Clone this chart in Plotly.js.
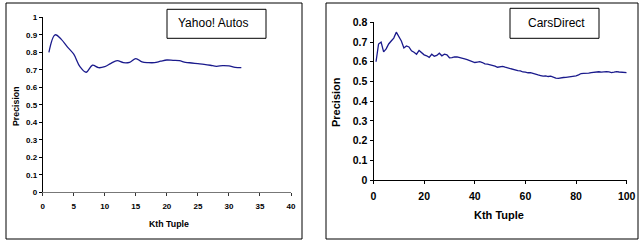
<!DOCTYPE html>
<html>
<head>
<meta charset="utf-8">
<script src="https://cdn.plot.ly/plotly-3.0.1.min.js"></script>
<style>html,body{margin:0;padding:0;background:#fff;}#chart{width:639px;height:241px;}</style>
</head>
<body>
<div id="chart"></div>
<script>
// Yahoo! Autos precision by Kth tuple
const yahooK = [1,2,3,4,5,6,7,8,9,10,11,12,13,14,15,16,17,18,19,20,21,22,23,24,25,26,27,28,29,30,31,32];
const yahooPrecision = [0.80,0.90,0.874,0.83,0.789,0.718,0.686,0.726,0.712,0.718,0.737,0.752,0.741,0.743,0.764,0.745,0.741,0.741,0.749,0.756,0.754,0.752,0.743,0.739,0.735,0.731,0.726,0.72,0.724,0.722,0.714,0.712];

// CarsDirect precision by Kth tuple
const carsK = [];
for (let i = 1; i <= 100; i++) carsK.push(i);
const carsPrecision = [
0.60,0.69,0.70,0.65,0.665,0.69,0.705,0.72,0.75,0.73,
0.705,0.67,0.68,0.675,0.655,0.648,0.638,0.657,0.645,0.635,
0.63,0.622,0.638,0.628,0.632,0.643,0.63,0.638,0.635,0.62,
0.621,0.625,0.624,0.622,0.617,0.615,0.611,0.607,0.603,0.596,
0.598,0.600,0.596,0.589,0.588,0.585,0.58,0.578,0.572,0.573,
0.576,0.572,0.568,0.563,0.561,0.558,0.555,0.554,0.548,0.547,
0.544,0.545,0.54,0.537,0.533,0.53,0.527,0.528,0.525,0.527,
0.52,0.517,0.516,0.519,0.52,0.521,0.522,0.525,0.526,0.528,
0.533,0.54,0.541,0.541,0.542,0.545,0.547,0.55,0.549,0.547,
0.549,0.55,0.548,0.545,0.547,0.55,0.548,0.546,0.545,0.545];

const labels = {left: "Yahoo! Autos", right: "CarsDirect", xTitle: "Kth Tuple", yTitle: "Precision"};

const W = 639, H = 241;
const px = v => v / W;
const py = v => (H - v) / H;
const FONT = "Liberation Sans, Arial, sans-serif";
const lineColor = "#1a1a8c";

const traces = [
  {x: yahooK, y: yahooPrecision, xaxis: "x", yaxis: "y", type: "scatter", mode: "lines",
   line: {color: lineColor, width: 1.3, shape: "spline", smoothing: 1}, hoverinfo: "skip"},
  {x: carsK, y: carsPrecision, xaxis: "x2", yaxis: "y2", type: "scatter", mode: "lines",
   line: {color: lineColor, width: 1.3}, hoverinfo: "skip"}
];

const baseAxis = {showgrid: false, zeroline: false, showline: true, ticks: "outside", ticklen: 3, tickwidth: 1, fixedrange: true};

const layout = {
  width: W, height: H,
  margin: {l: 0, r: 0, t: 0, b: 0},
  paper_bgcolor: "#fff", plot_bgcolor: "#fff",
  showlegend: false,
  xaxis: Object.assign({}, baseAxis, {domain: [px(42.7), px(291)], range: [0, 40], dtick: 5, anchor: "y",
    linecolor: "#777", tickcolor: "#333", ticklabelstandoff: 3,
    tickfont: {family: FONT, size: 8, weight: "bold", color: "#000"}}),
  yaxis: Object.assign({}, baseAxis, {domain: [py(192.3), py(17.3)], range: [0, 1], dtick: 0.1, anchor: "x",
    linecolor: "#000", tickcolor: "#000",
    tickfont: {family: FONT, size: 8, weight: "bold", color: "#000"}}),
  xaxis2: Object.assign({}, baseAxis, {domain: [px(373.5), px(626.7)], range: [0, 100], dtick: 20, anchor: "y2",
    linecolor: "#000", tickcolor: "#000", ticklabelstandoff: 3,
    tickfont: {family: FONT, size: 10.5, weight: "bold", color: "#000"}}),
  yaxis2: Object.assign({}, baseAxis, {domain: [py(180), py(22.3)], range: [0, 0.8], dtick: 0.1, anchor: "x2",
    linecolor: "#000", tickcolor: "#000",
    tickfont: {family: FONT, size: 10.5, weight: "bold", color: "#000"}}),
  shapes: [
    {type: "rect", xref: "paper", yref: "paper", x0: px(6), x1: px(302), y0: py(239), y1: py(3), line: {color: "#000", width: 1}},
    {type: "rect", xref: "paper", yref: "paper", x0: px(326), x1: px(638), y0: py(239), y1: py(3), line: {color: "#000", width: 1}},
    {type: "rect", xref: "paper", yref: "paper", x0: px(167), x1: px(266), y0: py(38.3), y1: py(9.3), line: {color: "#000", width: 1}},
    {type: "rect", xref: "paper", yref: "paper", x0: px(510), x1: px(599), y0: py(38.3), y1: py(8.3), line: {color: "#000", width: 1}}
  ],
  annotations: [
    {text: labels.left, xref: "paper", yref: "paper", x: px(213), y: py(23.5), showarrow: false, xanchor: "center", yanchor: "middle",
     font: {family: FONT, size: 12, color: "#000"}},
    {text: labels.right, xref: "paper", yref: "paper", x: px(556), y: py(23.5), showarrow: false, xanchor: "center", yanchor: "middle",
     font: {family: FONT, size: 12, color: "#000"}},
    {text: labels.yTitle, xref: "paper", yref: "paper", x: px(16), y: py(106), showarrow: false, textangle: -90, xanchor: "center", yanchor: "middle",
     font: {family: FONT, size: 8.8, weight: "bold", color: "#000"}},
    {text: labels.xTitle, xref: "paper", yref: "paper", x: px(169), y: py(224), showarrow: false, xanchor: "center", yanchor: "middle",
     font: {family: FONT, size: 8.8, weight: "bold", color: "#000"}},
    {text: labels.yTitle, xref: "paper", yref: "paper", x: px(336), y: py(102), showarrow: false, textangle: -90, xanchor: "center", yanchor: "middle",
     font: {family: FONT, size: 11, weight: "bold", color: "#000"}},
    {text: labels.xTitle, xref: "paper", yref: "paper", x: px(499), y: py(215), showarrow: false, xanchor: "center", yanchor: "middle",
     font: {family: FONT, size: 11, weight: "bold", color: "#000"}}
  ]
};

Plotly.newPlot("chart", traces, layout, {staticPlot: true, displayModeBar: false});
</script>
</body>
</html>
